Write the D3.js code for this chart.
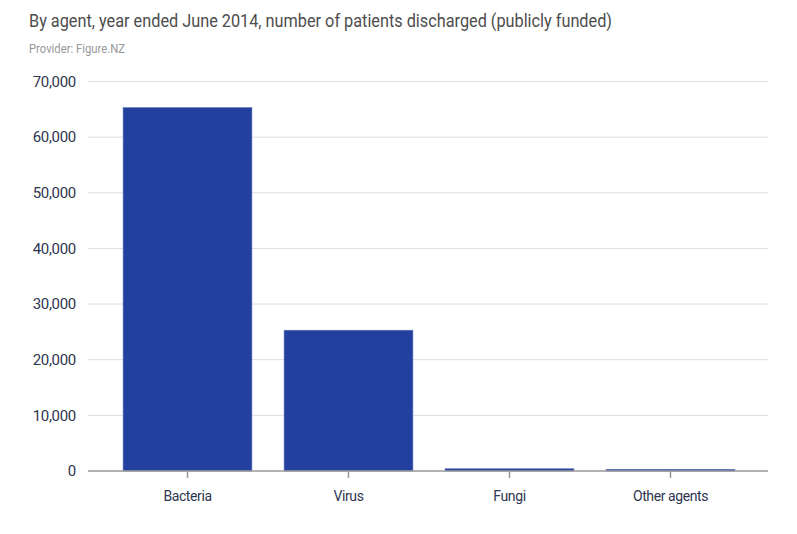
<!DOCTYPE html>
<html>
<head>
<meta charset="utf-8">
<script src="https://cdn.jsdelivr.net/npm/d3@7"></script>
<style>
	body { margin: 0; background: #fff; }
	text { font-family: "Roboto", sans-serif; }
</style>
</head>
<body>
<div id="chart"></div>
<script>
const categories = ["Bacteria", "Virus", "Fungi", "Other agents"]
const patients = [65300, 25300, 400, 300]
const yTicks = [0, 10000, 20000, 30000, 40000, 50000, 60000, 70000]

const width = 797
const height = 534
const plot = {left: 88, right: 768, top: 81.5, bottom: 471}

let svg = d3.select("#chart").append("svg")
	.attr("width", width)
	.attr("height", height)

let xScale = d3.scaleBand()
	.domain(categories)
	.range([107, 751])
	.paddingInner(0.2)
	.paddingOuter(0.1)

let yScale = d3.scaleLinear()
	.domain([0, 70000])
	.range([plot.bottom, plot.top])

// title + provider (the original font is condensed, so squeeze to its width)
svg.append("text")
	.text("By agent, year ended June 2014, number of patients discharged (publicly funded)")
	.attr("x", 29)
	.attr("y", 27)
	.attr("font-size", 19)
	.attr("fill", "#4d4d4d")
	.attr("textLength", 583)
	.attr("lengthAdjust", "spacingAndGlyphs")
svg.append("text")
	.text("Provider: Figure.NZ")
	.attr("x", 29)
	.attr("y", 53)
	.attr("font-size", 12)
	.attr("fill", "#999")
	.attr("textLength", 96)
	.attr("lengthAdjust", "spacingAndGlyphs")

// gridlines
svg.append("g").selectAll("line")
	.data(yTicks.filter(d => d > 0))
	.join("line")
	.attr("x1", plot.left)
	.attr("x2", plot.right)
	.attr("y1", d => yScale(d))
	.attr("y2", d => yScale(d))
	.attr("stroke", "#ddd")
	.attr("stroke-width", 1)

// y axis labels
let fmt = d3.format(",")
svg.append("g").selectAll("text")
	.data(yTicks)
	.join("text")
	.text(d => fmt(d))
	.attr("x", 76)
	.attr("y", d => yScale(d))
	.attr("dy", "0.35em")
	.attr("text-anchor", "end")
	.attr("font-size", 15)
	.attr("letter-spacing", -0.3)
	.attr("fill", "#2e3550")

// bars
svg.append("g").selectAll("rect")
	.data(patients)
	.join("rect")
	.attr("x", (d, i) => xScale(categories[i]))
	.attr("y", d => yScale(d))
	.attr("width", xScale.bandwidth())
	.attr("height", d => yScale(0) - yScale(d))
	.attr("fill", "#23409f")
	.attr("stroke", "#5a6fb5")
	.attr("stroke-width", 0.6)

// x axis
let xAxis = d3.axisBottom(xScale).tickSize(7).tickSizeOuter(0)
let gx = svg.append("g")
	.attr("transform", `translate(0,${plot.bottom})`)
	.call(xAxis)
gx.select(".domain").remove()
gx.append("line")
	.attr("x1", plot.left)
	.attr("x2", plot.right)
	.attr("stroke", "#999")
	.attr("stroke-width", 1.5)
gx.selectAll(".tick line").attr("stroke", "#999").attr("stroke-width", 1.5)
gx.selectAll(".tick text")
	.attr("y", 20)
	.attr("font-size", 14)
	.attr("letter-spacing", -0.4)
	.attr("fill", "#2e3550")
	.style("font-family", "Roboto, sans-serif")
</script>
</body>
</html>
